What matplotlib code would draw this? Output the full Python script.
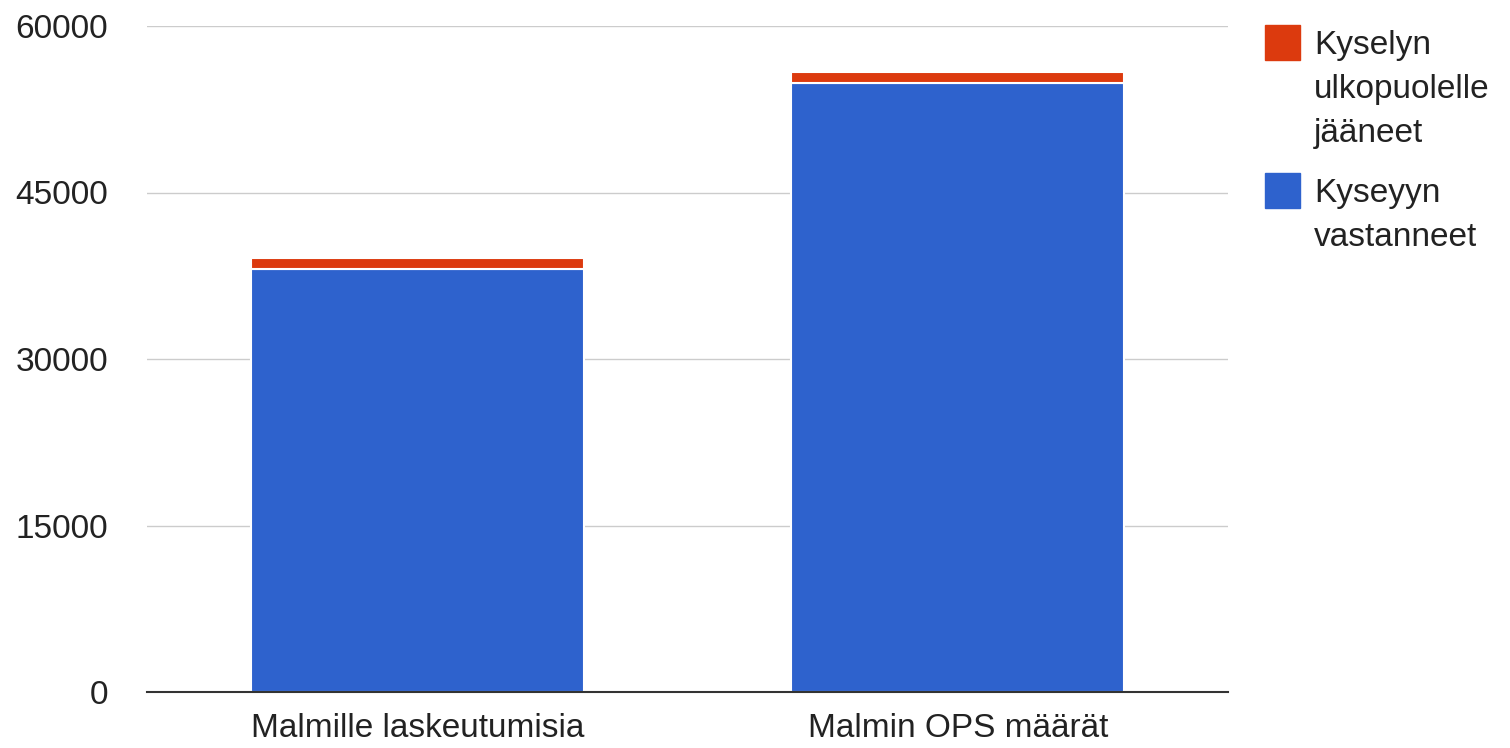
import matplotlib
matplotlib.use("Agg")
import matplotlib.pyplot as plt
from matplotlib.patches import Rectangle

categories = ["Malmille laskeutumisia", "Malmin OPS määrät"]
vastanneet = [38100, 54900]
ulkopuolelle = [1000, 1000]
series_labels = ["Kyselyn\nulkopuolelle\njääneet", "Kyseyyn\nvastanneet"]
yticks = [0, 15000, 30000, 45000, 60000]

BLUE = "#2E62CD"
RED = "#DC3A0E"
TXT = "#222222"

plt.rcParams['font.family'] = ['Liberation Sans', 'DejaVu Sans']

fig = plt.figure(figsize=(15.10, 7.48), dpi=100)
ax = fig.add_axes([147/1510, 56/748, (1228-147)/1510, (692-26)/748])

x = list(range(len(categories)))
ax.bar(x, vastanneet, width=0.616, color=BLUE, edgecolor="white", linewidth=1.5, zorder=3)
ax.bar(x, ulkopuolelle, width=0.616, bottom=vastanneet, color=RED, edgecolor="white", linewidth=1.5, zorder=3)

ax.set_xlim(-0.5, 1.5)
ax.set_ylim(0, 60000)
ax.set_yticks(yticks)
ax.set_yticklabels([str(v) for v in yticks], fontsize=24, color=TXT)
ax.set_xticks(x)
ax.set_xticklabels(categories, fontsize=24, color=TXT)
ax.tick_params(axis='both', length=0)
ax.tick_params(axis='y', pad=28)
ax.tick_params(axis='x', pad=15)
ax.grid(axis='y', color="#cccccc", linewidth=1, zorder=0)
for s in ['top', 'right', 'left']:
    ax.spines[s].set_visible(False)
ax.spines['bottom'].set_color("#333333")
ax.spines['bottom'].set_linewidth(1.5)
ax.spines['bottom'].set_zorder(4)

# legend drawn manually
W, H = 1510, 748
def fx(px): return px / W
def fy(py): return 1 - py / H
items = [(RED, series_labels[0], 25), (BLUE, series_labels[1], 173)]
for col, lab, top in items:
    fig.add_artist(Rectangle((fx(1265), fy(top + 35)), 35 / W, 35 / H,
                             transform=fig.transFigure, color=col))
    for i, line in enumerate(lab.split("\n")):
        fig.text(fx(1314), fy(top + 29 + 44 * i), line, fontsize=24, color=TXT,
                 va='baseline', ha='left')

fig.savefig("out.png", dpi=100, facecolor="white")
